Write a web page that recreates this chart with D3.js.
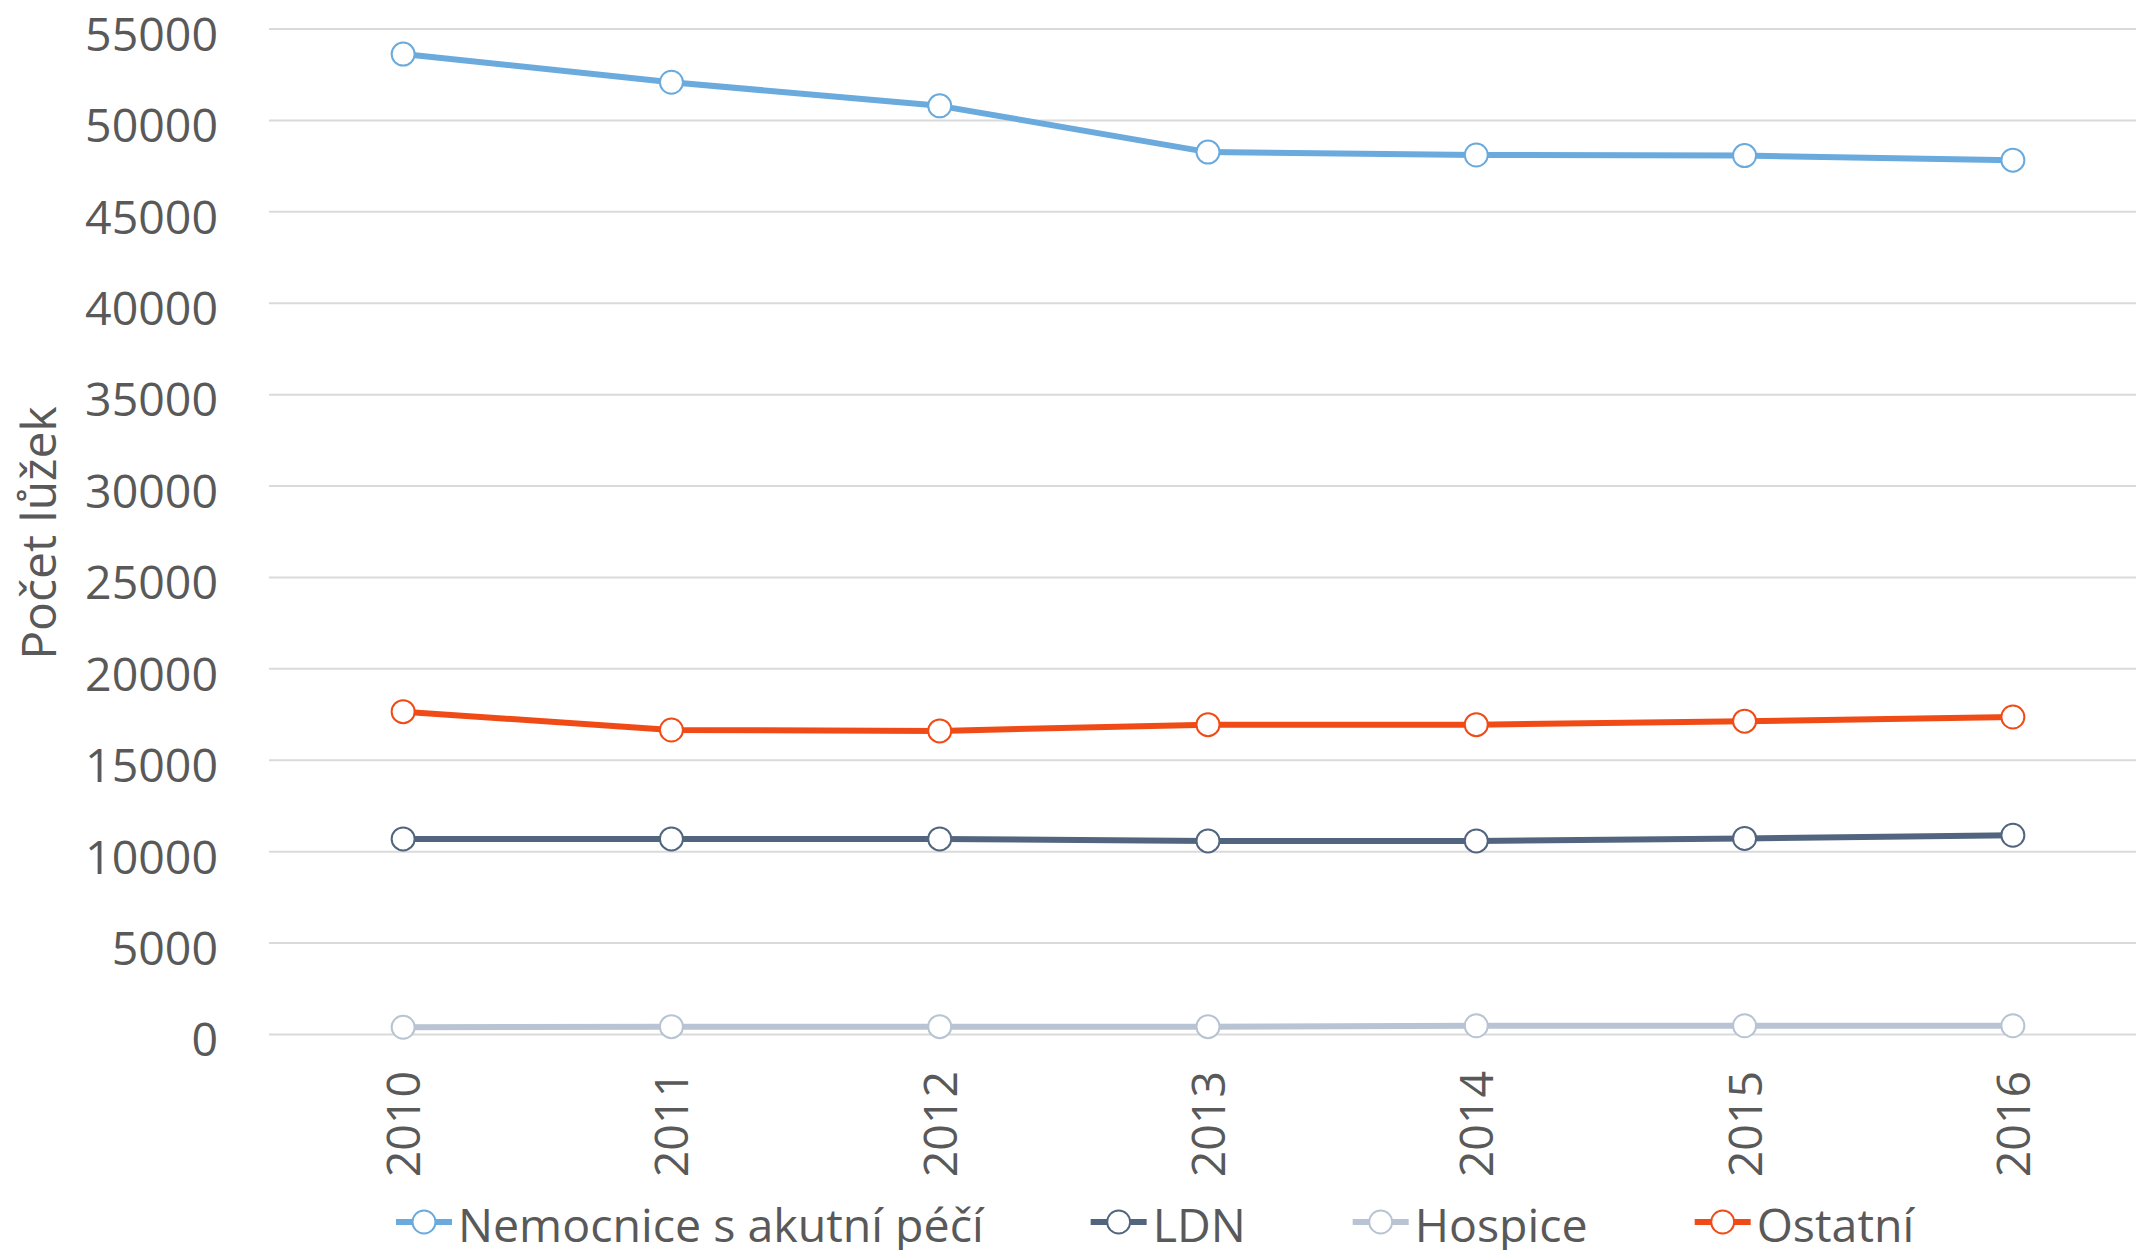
<!DOCTYPE html>
<html>
<head>
<meta charset="utf-8">
<script src="https://cdn.jsdelivr.net/npm/d3@7"></script>
<style>
	body { margin: 0; background: #fff; }
	text { font-family: "Open Sans", sans-serif; fill: #595959; }
</style>
</head>
<body>
<script>
//data
let years = ["2010", "2011", "2012", "2013", "2014", "2015", "2016"];
let yTicks = [0, 5000, 10000, 15000, 20000, 25000, 30000, 35000, 40000, 45000, 50000, 55000];

let seriesNames = ["Nemocnice s akutní péčí", "LDN", "Hospice", "Ostatní"];
let nemocnice = [53600, 52060, 50770, 48240, 48080, 48050, 47800];
let ldn = [10670, 10670, 10670, 10560, 10560, 10700, 10870];
let hospice = [370, 400, 400, 400, 450, 450, 450];
let ostatni = [17630, 16630, 16580, 16920, 16920, 17110, 17340];
let colors = ["#6aaadd", "#52657f", "#b8c4d3", "#f04b16"];

let svg = d3.select("body").append("svg")
	.attr("width", 2136)
	.attr("height", 1250);

let margin = { top: 28.5, left: 269, bottom: 216 };
let plotRight = 2147; //the last band goes a little past the edge
let fontSize = 46.5;

let scaleX = d3.scalePoint()
	.domain(years)
	.range([margin.left, plotRight])
	.padding(0.5);

let scaleY = d3.scaleLinear()
	.domain([0, 55000])
	.range([1034, margin.top]);

//gridlines + labels
let yAxis = d3.axisLeft(scaleY)
	.tickValues(yTicks)
	.tickSize(-(plotRight - margin.left))
	.tickFormat(d3.format("d"));

let yG = svg.append("g")
	.attr("transform", `translate(${margin.left},0)`)
	.call(yAxis);
yG.select(".domain").remove();
yG.selectAll(".tick line").attr("stroke", "#dadada").attr("stroke-width", 2);
yG.selectAll(".tick text")
	.attr("font-size", fontSize)
	.attr("fill", "#595959")
	.attr("dy", "0.47em")
	.attr("x", -51);

//axis title
svg.append("text")
	.attr("transform", "translate(56,533) rotate(-90)")
	.attr("text-anchor", "middle")
	.attr("font-size", 48)
	.text("Počet lůžek");

//x labels, rotated
svg.append("g").selectAll("text")
	.data(years)
	.enter().append("text")
	.attr("transform", d => `translate(${scaleX(d) + 17},1071) rotate(-90)`)
	.attr("text-anchor", "end")
	.attr("font-size", fontSize)
	.text(d => d);

let allSeries = [nemocnice, ldn, hospice, ostatni];

let line = d3.line()
	.x((d, i) => scaleX(years[i]))
	.y(d => scaleY(d));

allSeries.forEach((vals, k) => {
	svg.append("path")
		.datum(vals)
		.attr("fill", "none")
		.attr("stroke", colors[k])
		.attr("stroke-width", 6)
		.attr("stroke-linejoin", "round")
		.attr("d", line);

	svg.append("g").selectAll("circle")
		.data(vals)
		.enter().append("circle")
		.attr("cx", (d, i) => scaleX(years[i]))
		.attr("cy", d => scaleY(d))
		.attr("r", 11.5)
		.attr("fill", "#fff")
		.attr("stroke", colors[k])
		.attr("stroke-width", 2);
});

//legend
let legendY = 1222;
let lx = 396;
seriesNames.forEach((name, k) => {
	let item = svg.append("g").attr("transform", `translate(${lx},${legendY})`);
	item.append("line")
		.attr("x1", 0).attr("x2", 56)
		.attr("stroke", colors[k])
		.attr("stroke-width", 6);
	item.append("circle")
		.attr("cx", 28).attr("r", 11.5)
		.attr("fill", "#fff")
		.attr("stroke", colors[k])
		.attr("stroke-width", 2);
	let t = item.append("text")
		.attr("x", 62)
		.attr("y", 20)
		.attr("font-size", fontSize)
		.text(name);
	lx += 62 + t.node().getComputedTextLength() + 107;
});
</script>
</body>
</html>
